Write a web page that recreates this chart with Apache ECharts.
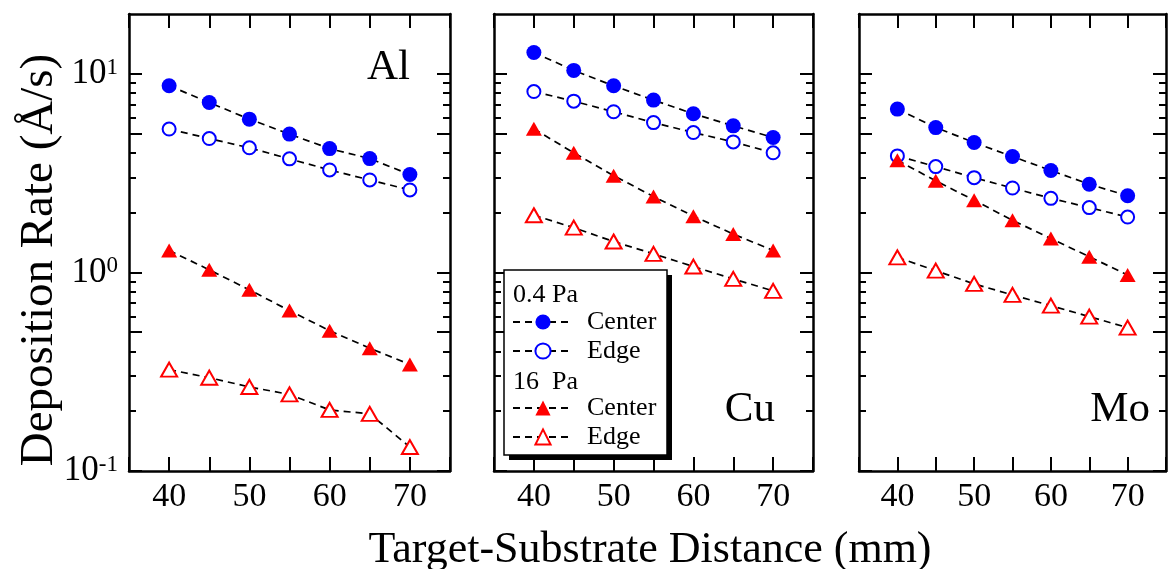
<!DOCTYPE html>
<html>
<head>
<meta charset="utf-8">
<script src="https://cdn.jsdelivr.net/npm/echarts@6/dist/echarts.min.js"></script>
<style>
  html, body { margin: 0; padding: 0; background: #fff; }
  #chart { width: 1169px; height: 569px; }
</style>
</head>
<body>
<div id="chart"></div>
<script>
// ---- data ----
const distances = [40, 45, 50, 55, 60, 65, 70];
const panels = ['Al', 'Cu', 'Mo'];
const xTickLabels = [40, 50, 60, 70];
const yTickLabels = [0.1, 1, 10];
const yMajorTicks = [0.1, 0.5, 1, 5, 10];
const yMinorTicks = [0.2, 0.3, 0.4, 0.6, 0.7, 0.8, 0.9, 2, 3, 4, 6, 7, 8, 9];

const alCenter04 = [8.7, 7.17, 5.91, 4.97, 4.2, 3.74, 3.11];
const alEdge04   = [5.27, 4.72, 4.24, 3.73, 3.28, 2.92, 2.6];
const alCenter16 = [1.29, 1.03, 0.817, 0.642, 0.509, 0.415, 0.344];
const alEdge16   = [0.324, 0.295, 0.265, 0.243, 0.203, 0.194, 0.132];

const cuCenter04 = [12.8, 10.4, 8.7, 7.37, 6.29, 5.47, 4.78];
const cuEdge04   = [8.14, 7.28, 6.44, 5.68, 5.06, 4.54, 4.0];
const cuCenter16 = [5.28, 4.0, 3.07, 2.41, 1.92, 1.56, 1.29];
const cuEdge16   = [1.94, 1.68, 1.43, 1.24, 1.07, 0.927, 0.807];

const moCenter04 = [6.64, 5.36, 4.51, 3.83, 3.26, 2.78, 2.43];
const moEdge04   = [3.86, 3.41, 3.0, 2.66, 2.36, 2.12, 1.9];
const moCenter16 = [3.67, 2.89, 2.31, 1.83, 1.48, 1.2, 0.97];
const moEdge16   = [1.19, 1.02, 0.875, 0.77, 0.68, 0.599, 0.527];

const panelData = [
  [alCenter04, alEdge04, alCenter16, alEdge16],
  [cuCenter04, cuEdge04, cuCenter16, cuEdge16],
  [moCenter04, moEdge04, moCenter16, moEdge16]
];
const seriesNames = ['0.4 Pa Center', '0.4 Pa Edge', '16 Pa Center', '16 Pa Edge'];

// ---- styling ----
const FONT = '"Liberation Serif", "Times New Roman", serif';
const BLUE = '#0000ff';
const RED = '#ff0000';
const seriesStyle = [
  { symbol: 'circle', size: 15, filled: true, color: BLUE },
  { symbol: 'circle', size: 13, filled: false, color: BLUE },
  { symbol: 'triangle', size: [16, 14], filled: true, color: RED },
  { symbol: 'triangle', size: [16, 14], filled: false, color: RED }
];

const gridsLayout = [
  { left: 129, top: 14, width: 321, height: 457 },
  { left: 494, top: 14, width: 319, height: 457 },
  { left: 859, top: 14, width: 320, height: 457 }
];

const xAxes = [];
const yAxes = [];
const series = [];

gridsLayout.forEach((g, gi) => {
  ['bottom', 'top'].forEach(pos => {
    xAxes.push({
      gridIndex: gi, type: 'value', min: 35, max: 75, interval: 5, position: pos,
      axisLine: { onZero: false, lineStyle: { color: '#000', width: 2.5 } },
      axisTick: { inside: true, length: 14, lineStyle: { color: '#000', width: 2 } },
      axisLabel: pos === 'bottom' ? {
        show: true, margin: 9, fontSize: 34, fontFamily: FONT, color: '#000',
        formatter: v => (xTickLabels.indexOf(v) >= 0 ? String(v) : '')
      } : { show: false },
      splitLine: { show: false }
    });
  });
  ['left', 'right'].forEach(pos => {
    // major ticks + axis line
    yAxes.push({
      gridIndex: gi, type: 'log', logBase: 10, min: 0.1, max: 20, position: pos,
      axisLine: { show: true, onZero: false, lineStyle: { color: '#000', width: 2.5 } },
      axisTick: { show: true, inside: true, length: 13, customValues: yMajorTicks, lineStyle: { color: '#000', width: 2 } },
      axisLabel: (gi === 0 && pos === 'left') ? {
        show: true, margin: 11, customValues: yTickLabels, color: '#000',
        formatter: v => '{b|10}{s|' + Math.round(Math.log10(v)) + '}',
        rich: {
          b: { fontSize: 35, fontFamily: FONT, color: '#000', verticalAlign: 'bottom' },
          s: { fontSize: 23, fontFamily: FONT, color: '#000', verticalAlign: 'top' }
        }
      } : { show: false },
      splitLine: { show: false },
      minorTick: { show: false }
    });
    // minor ticks
    yAxes.push({
      gridIndex: gi, type: 'log', logBase: 10, min: 0.1, max: 20, position: pos,
      axisLine: { show: false },
      axisTick: { show: true, inside: true, length: 7, customValues: yMinorTicks, lineStyle: { color: '#000', width: 2 } },
      axisLabel: { show: false },
      splitLine: { show: false }
    });
  });

  panelData[gi].forEach((vals, si) => {
    const st = seriesStyle[si];
    series.push({
      name: seriesNames[si],
      type: 'line',
      xAxisIndex: gi * 2,
      yAxisIndex: gi * 4,
      data: distances.map((d, i) => [d, vals[i]]),
      symbol: st.symbol,
      symbolSize: st.size,
      showSymbol: true,
      lineStyle: { color: '#000', width: 1.7, type: [7, 5] },
      itemStyle: st.filled ? { color: st.color } : { color: '#fff', borderColor: st.color, borderWidth: 2 },
      emphasis: { disabled: true },
      z: 3
    });
  });
});

const legendCommon = {
  orient: 'vertical', padding: 0, itemWidth: 60, itemHeight: 19, itemGap: 3,
  selectedMode: false, z: 10,
  formatter: n => n.replace(/^.* /, ''),
  textStyle: { fontFamily: FONT, fontSize: 26, color: '#000', padding: [0, 0, 0, 9] }
};

const option = {
  backgroundColor: '#fff',
  animation: false,
  grid: gridsLayout,
  xAxis: xAxes,
  yAxis: yAxes,
  series: series,
  legend: [
    Object.assign({}, legendCommon, { left: 512, top: 309, data: ['0.4 Pa Center', '0.4 Pa Edge'] }),
    Object.assign({}, legendCommon, { left: 512, top: 395, data: ['16 Pa Center', '16 Pa Edge'] })
  ],
  graphic: [
    { type: 'rect', z: 8, shape: { x: 509, y: 275, width: 163, height: 185 }, style: { fill: '#000' } },
    { type: 'rect', z: 9, shape: { x: 504, y: 270, width: 163, height: 185 }, style: { fill: '#fff', stroke: '#000', lineWidth: 1.5 } },
    { type: 'text', z: 10, x: 513, y: 295, style: { text: '0.4 Pa', font: '26px ' + FONT, fill: '#000', align: 'left', verticalAlign: 'middle', textAlign: 'left', textVerticalAlign: 'middle' } },
    { type: 'text', z: 10, x: 513, y: 382, style: { text: '16  Pa', font: '26px ' + FONT, fill: '#000', align: 'left', verticalAlign: 'middle', textAlign: 'left', textVerticalAlign: 'middle' } },
    { type: 'text', z: 10, x: 410, y: 68, style: { text: panels[0], font: '43px ' + FONT, fill: '#000', align: 'right', verticalAlign: 'middle', textAlign: 'right', textVerticalAlign: 'middle' } },
    { type: 'text', z: 10, x: 775, y: 410, style: { text: panels[1], font: '43px ' + FONT, fill: '#000', align: 'right', verticalAlign: 'middle', textAlign: 'right', textVerticalAlign: 'middle' } },
    { type: 'text', z: 10, x: 1150, y: 410, style: { text: panels[2], font: '43px ' + FONT, fill: '#000', align: 'right', verticalAlign: 'middle', textAlign: 'right', textVerticalAlign: 'middle' } },
    { type: 'text', z: 10, x: 650, y: 550, style: { text: 'Target-Substrate Distance (mm)', font: '44px ' + FONT, fill: '#000', align: 'center', verticalAlign: 'middle', textAlign: 'center', textVerticalAlign: 'middle' } },
    { type: 'text', z: 10, x: 40, y: 260, rotation: Math.PI / 2, style: { text: 'Deposition Rate (Å/s)', font: '47px ' + FONT, fill: '#000', align: 'center', verticalAlign: 'middle', textAlign: 'center', textVerticalAlign: 'middle' } }
  ]
};

const chart = echarts.init(document.getElementById('chart'), null, { renderer: 'canvas' });
chart.setOption(option);
</script>
</body>
</html>
